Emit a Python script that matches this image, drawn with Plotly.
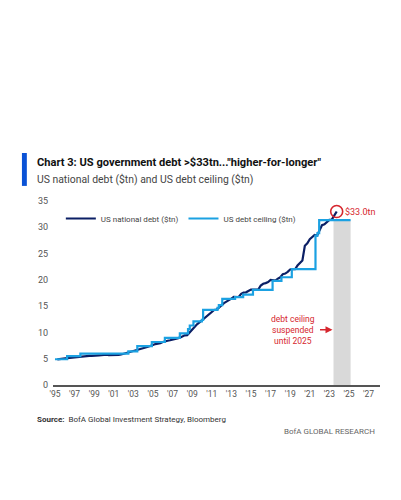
import pandas as pd
import plotly.graph_objects as go

# ---- data ----
debt_quarters = pd.period_range("1995Q1", "2023Q3", freq="Q").to_timestamp(how="end").strftime("%Y-%m-%d").tolist()
debt_values = [
    4.86, 4.95, 4.97, 4.99,   # 1995
    5.12, 5.16, 5.22, 5.32,   # 1996
    5.38, 5.38, 5.41, 5.50,   # 1997
    5.54, 5.55, 5.53, 5.61,   # 1998
    5.65, 5.64, 5.66, 5.78,   # 1999
    5.77, 5.69, 5.67, 5.66,   # 2000
    5.77, 5.73, 5.81, 5.94,   # 2001
    6.01, 6.13, 6.23, 6.41,   # 2002
    6.46, 6.67, 6.78, 7.00,   # 2003
    7.13, 7.27, 7.38, 7.60,   # 2004
    7.78, 7.84, 7.93, 8.17,   # 2005
    8.37, 8.42, 8.51, 8.68,   # 2006
    8.85, 8.87, 9.01, 9.23,   # 2007
    9.44, 9.49, 10.02, 10.70, # 2008
    11.13, 11.55, 11.91, 12.31,  # 2009
    12.77, 13.20, 13.56, 14.03,  # 2010
    14.27, 14.34, 14.79, 15.22,  # 2011
    15.58, 15.86, 16.07, 16.43,  # 2012
    16.77, 16.74, 16.74, 17.35,  # 2013
    17.60, 17.63, 17.82, 18.14,  # 2014
    18.15, 18.15, 18.15, 18.92,  # 2015
    19.26, 19.38, 19.57, 19.98,  # 2016
    19.85, 19.84, 20.24, 20.49,  # 2017
    21.09, 21.20, 21.52, 21.97,  # 2018
    22.03, 22.02, 22.72, 23.20,  # 2019
    23.69, 26.48, 26.95, 27.75,  # 2020
    28.13, 28.53, 28.43, 29.62,  # 2021
    30.40, 30.57, 30.93, 31.42,  # 2022
    31.46, 32.33, 33.00,         # 2023
]

ceiling_dates = [
    "1995-01-01", "1996-03-29", "1997-08-05", "2002-06-28", "2003-05-27",
    "2004-11-19", "2006-03-20", "2007-09-29", "2008-07-30", "2008-10-03",
    "2009-02-17", "2009-12-28", "2010-02-12", "2011-08-02", "2011-09-21",
    "2012-01-27", "2013-05-19", "2014-03-15", "2015-03-16", "2017-03-16",
    "2018-02-09", "2019-03-02", "2021-08-01", "2021-10-14", "2021-12-16",
    "2025-03-01",
]
ceiling_values = [
    4.9, 5.5, 5.95, 6.4, 7.384,
    8.184, 8.965, 9.815, 10.615, 11.315,
    12.104, 12.394, 14.294, 14.694, 15.194,
    16.394, 16.699, 17.2, 18.113, 19.809,
    20.5, 22.03, 28.4, 28.9, 31.381,
    31.381,
]

tick_years = list(range(1995, 2028, 2))
tick_labels = ["'" + str(y)[2:] for y in tick_years]
suspension = ("2023-06-03", "2025-03-01")
latest_label = "$33.0tn"

NAVY = "#0b1f65"
LIGHT = "#1ba1e2"
RED = "#d6262e"
GREY = "#555555"
FONT = "Roboto"

fig = go.Figure()
fig.add_trace(go.Scatter(
    x=debt_quarters, y=debt_values, mode="lines", name="US national debt ($tn)",
    line=dict(color=NAVY, width=2.2),
))
fig.add_trace(go.Scatter(
    x=ceiling_dates, y=ceiling_values, mode="lines", name="US debt ceiling ($tn)",
    line=dict(color=LIGHT, width=2.2, shape="hv"),
))

# suspension band
fig.add_shape(type="rect", xref="x", yref="y", x0=suspension[0], x1=suspension[1],
              y0=0, y1=ceiling_values[-1], fillcolor="#d9d9d9", line_width=0, layer="below")
# red circle around latest
fig.add_shape(type="circle", xref="x", yref="y", xsizemode="pixel", ysizemode="pixel",
              xanchor=debt_quarters[-1], yanchor=debt_values[-1],
              x0=-6, x1=6, y0=-6, y1=6, line=dict(color=RED, width=1.6))
# title bar
fig.add_shape(type="rect", xref="paper", yref="paper", x0=-0.095, x1=-0.080,
              y0=1.082, y1=1.261, fillcolor="#0a52d6", line_width=0)

ann = []
ann.append(dict(xref="paper", yref="paper", x=-0.054, y=1.207, xanchor="left", yanchor="middle",
                text="<b>Chart 3: US government debt >$33tn...\"higher-for-longer\"</b>",
                showarrow=False, font=dict(family=FONT, size=11.1, color="#111111")))
ann.append(dict(xref="paper", yref="paper", x=-0.054, y=1.118, xanchor="left", yanchor="middle",
                text="US national debt ($tn) and US debt ceiling ($tn)",
                showarrow=False, font=dict(family=FONT, size=10.4, color="#444444")))
ann.append(dict(xref="x", yref="y", x=debt_quarters[-1], y=debt_values[-1], xanchor="left",
                yanchor="middle", xshift=6, text=latest_label, showarrow=False,
                font=dict(family=FONT, size=9, color=RED)))
ann.append(dict(xref="x", yref="y", x="2019-05-01", y=10.5, xanchor="center", yanchor="middle",
                text="debt ceiling<br>suspended<br>until 2025", showarrow=False,
                font=dict(family=FONT, size=8.5, color=RED)))
ann.append(dict(xref="x", yref="y", x=suspension[0], y=10.5, ax=-15, ay=0, text="",
                showarrow=True, arrowhead=2, arrowsize=1, arrowwidth=1.4, arrowcolor=RED,
                standoff=1))
ann.append(dict(xref="paper", yref="paper", x=-0.054, y=-0.185, xanchor="left", yanchor="middle",
                text="<b>Source:</b>  BofA Global Investment Strategy, Bloomberg", showarrow=False,
                font=dict(family=FONT, size=8, color="#333333")))
ann.append(dict(xref="paper", yref="paper", x=0.991, y=-0.255, xanchor="right", yanchor="middle",
                text="BofA GLOBAL RESEARCH", showarrow=False,
                font=dict(family=FONT, size=8, color="#666666")))

fig.update_layout(
    width=401, height=500, autosize=False,
    margin=dict(l=53, r=21, t=201, b=115),
    paper_bgcolor="white", plot_bgcolor="white",
    font=dict(family=FONT, size=9, color=GREY),
    showlegend=True,
    legend=dict(orientation="h", x=0.024, y=0.905, xanchor="left", yanchor="middle",
                font=dict(family=FONT, size=8, color="#444444"), itemwidth=30,
                bgcolor="rgba(0,0,0,0)", tracegroupgap=0),
    annotations=ann,
    xaxis=dict(type="date", range=["1994-10-20", "2028-03-01"],
               tickvals=[f"{y}-01-01" for y in tick_years], ticktext=tick_labels,
               showgrid=False, zeroline=False, showline=True, linecolor="#555555", linewidth=1.5,
               ticks="", tickfont=dict(size=8.5, color=GREY)),
    yaxis=dict(range=[0, 35], tickvals=list(range(0, 36, 5)), showgrid=False, zeroline=False,
               showline=False, ticks="", ticklabelstandoff=4, tickfont=dict(size=9, color=GREY)),
)

fig.write_html("out.html")
